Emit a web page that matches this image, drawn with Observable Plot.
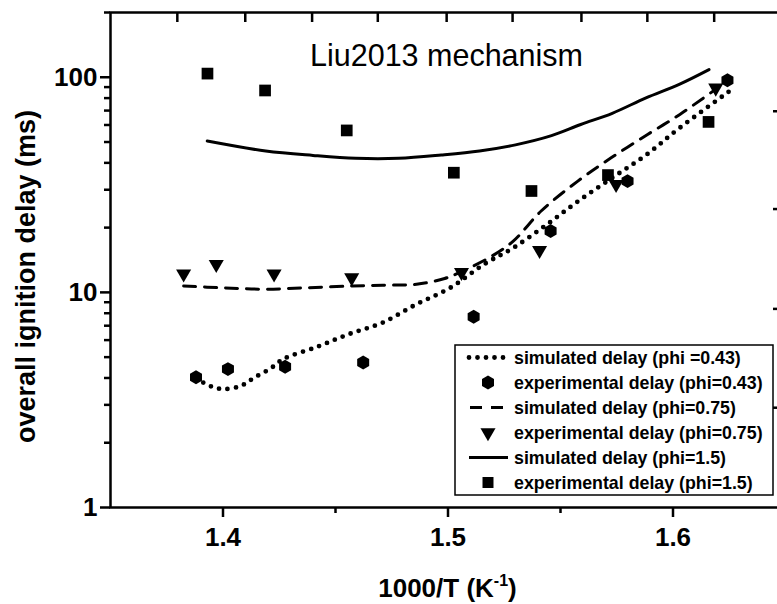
<!DOCTYPE html>
<html><head><meta charset="utf-8">
<script src="https://cdn.jsdelivr.net/npm/d3@7"></script>
<script src="https://cdn.jsdelivr.net/npm/@observablehq/plot@0.6"></script>
<style>body{margin:0;background:#fff;}</style>
</head><body><div id="chart"></div>
<script>
// ---- data ----
const titleText = "Liu2013 mechanism";
const yLabelText = "overall ignition delay (ms)";

// simulated delay, phi = 0.43 (dotted)
const sim043X = [1.388, 1.394, 1.400, 1.408, 1.414, 1.421, 1.427, 1.442, 1.456, 1.471, 1.486, 1.501, 1.516, 1.529, 1.544, 1.558, 1.573, 1.588, 1.603, 1.625];
const sim043Y = [3.99, 3.68, 3.55, 3.68, 4.02, 4.42, 4.91, 5.59, 6.40, 7.24, 8.81, 10.5, 13.5, 16.1, 20.7, 26.6, 34.1, 43.5, 58.2, 86];
// experimental delay, phi = 0.43 (hexagons)
const exp043X = [1.3880, 1.4022, 1.4276, 1.4623, 1.5114, 1.5456, 1.5798, 1.6242];
const exp043Y = [4.03, 4.40, 4.51, 4.72, 7.70, 19.3, 32.9, 96.9];
// simulated delay, phi = 0.75 (dashed)
const sim075X = [1.3825, 1.400, 1.418, 1.437, 1.4565, 1.472, 1.486, 1.4985, 1.5053, 1.5183, 1.529, 1.5414, 1.5577, 1.5725, 1.5887, 1.6029, 1.619];
const sim075Y = [10.7, 10.5, 10.35, 10.5, 10.7, 10.8, 10.9, 11.6, 12.4, 14.5, 17.3, 23.9, 32.9, 42.2, 54.2, 67, 88];
// experimental delay, phi = 0.75 (down triangles)
const exp075X = [1.3825, 1.3970, 1.4227, 1.4572, 1.5060, 1.5407, 1.5747, 1.6190];
const exp075Y = [12.2, 13.5, 12.2, 11.7, 12.4, 15.7, 31.8, 89.2];
// simulated delay, phi = 1.5 (solid)
const sim15X = [1.393, 1.419, 1.440, 1.459, 1.478, 1.497, 1.514, 1.530, 1.546, 1.559, 1.573, 1.588, 1.603, 1.616];
const sim15Y = [50.5, 45.4, 43.3, 42.0, 42.0, 43.5, 45.4, 48.5, 53.5, 60.3, 68, 80.2, 93, 108.6];
// experimental delay, phi = 1.5 (squares)
const exp15X = [1.3931, 1.4187, 1.4550, 1.5026, 1.5371, 1.5711, 1.6158];
const exp15Y = [104, 86.8, 56.6, 36.0, 29.6, 35.1, 62.0];

// ticks
const xMajor = [1.4, 1.5, 1.6];
const xMinor = [1.45, 1.55];
const yMajor = [1, 10, 100];
const yMinor = [2,3,4,5,6,7,8,9,20,30,40,50,60,70,80,90,200];
const topTicks = [1.3797, 1.4099, 1.4396, 1.4688, 1.4994, 1.5287, 1.5593, 1.5886, 1.6183];
const rightTicks = [69.5, 24.4, 8.38, 2.91];

const legendLabels = [
  "simulated delay (phi =0.43)",
  "experimental delay (phi=0.43)",
  "simulated delay (phi=0.75)",
  "experimental delay (phi=0.75)",
  "simulated delay (phi=1.5)",
  "experimental delay (phi=1.5)"
];

// ---- custom symbols ----
const downTriangle = {
  draw(context, size) {
    const s3 = Math.sqrt(3);
    const y = -Math.sqrt(size / (s3 * 3));
    context.moveTo(0, -y * 2);
    context.lineTo(-s3 * y, y);
    context.lineTo(s3 * y, y);
    context.closePath();
  }
};
const hexagon = {
  draw(ctx, size) {
    const rx = Math.sqrt(size / Math.PI), ry = rx * Math.sqrt(4 / 3), hy = ry / 2;
    ctx.moveTo(0, ry); ctx.lineTo(rx, hy); ctx.lineTo(rx, -hy); ctx.lineTo(0, -ry);
    ctx.lineTo(-rx, -hy); ctx.lineTo(-rx, hy); ctx.closePath();
  }
};

const FONT = "'Liberation Sans', Arial, Helvetica, sans-serif";

const svg = Plot.plot({
  width: 777, height: 604,
  marginLeft: 110, marginRight: -8, marginTop: 12, marginBottom: 97,
  style: {fontFamily: FONT, color: "black", background: "white"},
  x: {domain: [1.35, 1.65]},
  y: {type: "log", domain: [1, 200]},
  marks: [
    Plot.ruleX(topTicks, {x: d => d, insetBottom: 485, strokeWidth: 2.5, stroke: "black"}),
    Plot.ruleY(rightTicks, {y: d => d, insetLeft: 663, strokeWidth: 2.5, stroke: "black"}),
    Plot.axisX({ticks: xMajor, tickSize: 10, tickPadding: 10, tickFormat: d => d.toFixed(1), fontSize: 26, fontWeight: "bold", strokeWidth: 2.5, label: null}),
    Plot.axisX({ticks: xMinor, tickSize: 6, tickFormat: () => "", strokeWidth: 2.5, label: null}),
    Plot.axisY({ticks: yMajor, tickSize: 10, tickPadding: 3, tickFormat: d => String(d), fontSize: 26, fontWeight: "bold", strokeWidth: 2.5, label: null}),
    Plot.axisY({ticks: yMinor, tickSize: 6, tickFormat: () => "", strokeWidth: 2.5, label: null}),
    Plot.frame({stroke: "black", strokeWidth: 2.5}),
    Plot.line(sim15Y, {x: sim15X, y: sim15Y, stroke: "black", strokeWidth: 3, curve: "catmull-rom"}),
    Plot.line(sim075Y, {x: sim075X, y: sim075Y, stroke: "black", strokeWidth: 3, strokeDasharray: "12 9", curve: "catmull-rom"}),
    Plot.line(sim043Y, {x: sim043X, y: sim043Y, stroke: "black", strokeWidth: 4.8, strokeDasharray: "0 8.5", strokeLinecap: "round", curve: "catmull-rom"}),
    Plot.dot(exp15Y, {x: exp15X, y: exp15Y, symbol: "square", r: 6.6, fill: "black", stroke: "none"}),
    Plot.dot(exp075Y, {x: exp075X, y: exp075Y, symbol: downTriangle, r: 5.6, fill: "black", stroke: "none"}),
    Plot.dot(exp043Y, {x: exp043X, y: exp043Y, symbol: hexagon, r: 6, fill: "black", stroke: "none"}),
    Plot.text([titleText], {text: d => d, frameAnchor: "top", textAnchor: "middle", lineAnchor: "middle", dx: -1.5, dy: 43.4, fontSize: 30.5, fill: "black"})
  ]
});

const s = d3.select(svg);
// y-axis label
s.append("text")
  .attr("transform", "translate(26,276.5) rotate(-90)")
  .attr("text-anchor", "middle").attr("dy", "0.35em")
  .attr("font-family", FONT).attr("font-size", 27).attr("font-weight", "bold").attr("fill", "black")
  .text(yLabelText);
// x-axis label with superscript
const xl = s.append("text")
  .attr("x", 447.5).attr("y", 597)
  .attr("text-anchor", "middle")
  .attr("font-family", FONT).attr("font-size", 26).attr("font-weight", "bold").attr("fill", "black");
xl.append("tspan").text("1000/T (K");
xl.append("tspan").attr("font-size", 16).attr("dy", -11).text("-1");
xl.append("tspan").attr("dy", 11).text(")");

// legend
const lg = s.append("g").attr("font-family", FONT).attr("font-size", 17.8).attr("font-weight", "bold").attr("text-anchor", "start");
lg.append("rect").attr("x", 455).attr("y", 345).attr("width", 318).attr("height", 150)
  .attr("fill", "white").attr("stroke", "black").attr("stroke-width", 1.5);
const rowY = i => 357.5 + 25 * i;
const symX = 488;
legendLabels.forEach((t, i) => {
  const y = rowY(i);
  if (i === 0) {
    lg.append("line").attr("x1", 469).attr("x2", 507).attr("y1", y).attr("y2", y)
      .attr("stroke", "black").attr("stroke-width", 4.8).attr("stroke-dasharray", "0 8.5").attr("stroke-linecap", "round");
  } else if (i === 2) {
    lg.append("line").attr("x1", 470).attr("x2", 503).attr("y1", y).attr("y2", y)
      .attr("stroke", "black").attr("stroke-width", 3).attr("stroke-dasharray", "12 9");
  } else if (i === 4) {
    lg.append("line").attr("x1", 469).attr("x2", 508).attr("y1", y).attr("y2", y)
      .attr("stroke", "black").attr("stroke-width", 3);
  } else {
    const sym = i === 1 ? hexagon : i === 3 ? downTriangle : d3.symbolSquare;
    const size = i === 1 ? Math.PI * 36 : i === 3 ? Math.PI * 5.6 * 5.6 : Math.PI * 6.2 * 6.2;
    lg.append("path").attr("transform", `translate(${symX},${y})`)
      .attr("d", d3.symbol(sym, size)()).attr("fill", "black");
  }
  lg.append("text").attr("x", 514).attr("y", y).attr("dy", "0.35em").attr("text-anchor", "start").attr("fill", "black").text(t);
});

document.getElementById("chart").appendChild(svg);
</script>
</body></html>
